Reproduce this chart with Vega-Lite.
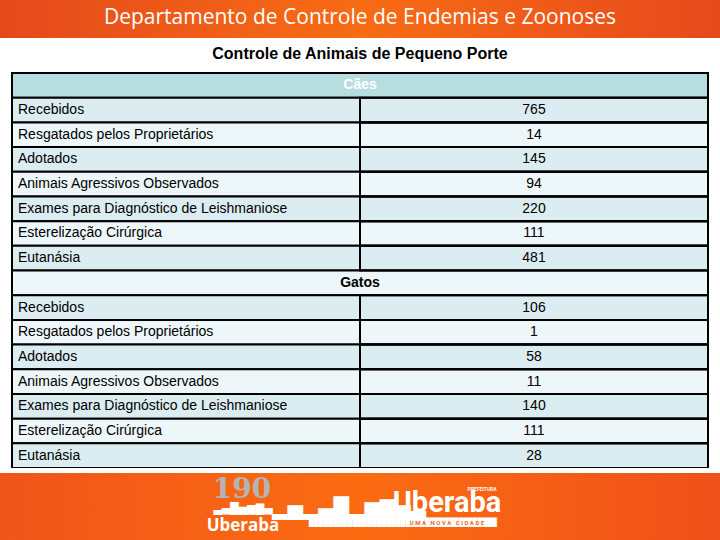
{
  "$schema": "https://vega.github.io/schema/vega-lite/v6.json",
  "background": "white",
  "padding": 0,
  "spacing": 0,
  "bounds": "flush",
  "center": true,
  "config": {"view": {"stroke": null}},
  "datasets": {
    "banner": [{"text": "Departamento de Controle de Endemias e Zoonoses"}],
    "subtitle": [{"text": "Controle de Animais de Pequeno Porte"}],
    "table": [
      {"row": 0, "kind": "header", "label": "Cães"},
      {"row": 1, "kind": "data", "label": "Recebidos", "value": 765},
      {"row": 2, "kind": "data", "label": "Resgatados pelos Proprietários", "value": 14},
      {"row": 3, "kind": "data", "label": "Adotados", "value": 145},
      {"row": 4, "kind": "data", "label": "Animais Agressivos Observados", "value": 94},
      {"row": 5, "kind": "data", "label": "Exames para Diagnóstico de Leishmaniose", "value": 220},
      {"row": 6, "kind": "data", "label": "Esterelização Cirúrgica", "value": 111},
      {"row": 7, "kind": "data", "label": "Eutanásia", "value": 481},
      {"row": 8, "kind": "header", "label": "Gatos"},
      {"row": 9, "kind": "data", "label": "Recebidos", "value": 106},
      {"row": 10, "kind": "data", "label": "Resgatados pelos Proprietários", "value": 1},
      {"row": 11, "kind": "data", "label": "Adotados", "value": 58},
      {"row": 12, "kind": "data", "label": "Animais Agressivos Observados", "value": 11},
      {"row": 13, "kind": "data", "label": "Exames para Diagnóstico de Leishmaniose", "value": 140},
      {"row": 14, "kind": "data", "label": "Esterelização Cirúrgica", "value": 111},
      {"row": 15, "kind": "data", "label": "Eutanásia", "value": 28}
    ],
    "footer": [{"a": "190", "b": "Uberaba", "c": "PREFEITURA", "d": "U\u00a0M\u00a0A\u00a0\u00a0\u00a0N\u00a0O\u00a0V\u00a0A\u00a0\u00a0\u00a0C\u00a0I\u00a0D\u00a0A\u00a0D\u00a0E"}]
  },
  "vconcat": [
    {
      "width": 720, "height": 38,
      "data": {"name": "banner"},
      "layer": [
        {"mark": {"type": "rect", "color": {"gradient": "linear", "x1": 0, "x2": 1, "y1": 0, "y2": 0, "stops": [{"offset": 0, "color": "#e4491c"}, {"offset": 0.5, "color": "#f86c14"}, {"offset": 1, "color": "#e6491c"}]}}, "encoding": {}},
        {"mark": {"type": "text", "color": "white", "font": "Open Sans", "fontSize": 21, "baseline": "middle", "dy": -1}, "encoding": {"text": {"field": "text"}}}
      ]
    },
    {
      "width": 720, "height": 35,
      "data": {"name": "subtitle"},
      "mark": {"type": "text", "color": "black", "font": "Liberation Sans", "fontWeight": "bold", "fontSize": 16, "baseline": "middle", "dy": -2},
      "encoding": {"text": {"field": "text"}}
    },
    {
      "width": 696, "height": 395,
      "data": {"name": "table"},
      "encoding": {"y": {"field": "row", "type": "ordinal", "axis": null, "scale": {"paddingInner": 0, "paddingOuter": 0}}},
      "layer": [
        {
          "mark": {"type": "rect", "stroke": "black", "strokeWidth": 2},
          "encoding": {"fill": {"condition": [{"test": "datum.row === 0", "value": "#b8dde1"}, {"test": "datum.row % 2 === 1", "value": "#dbedf0"}], "value": "#edf6f8"}}
        },
        {
          "transform": [{"filter": "datum.kind === 'data'"}],
          "mark": {"type": "rect", "fillOpacity": 0, "fill": "white", "stroke": "black", "strokeWidth": 2},
          "encoding": {"x": {"datum": "Valor", "type": "nominal", "scale": {"domain": ["Item", "Valor"], "paddingInner": 0, "paddingOuter": 0}, "axis": null}}
        },
        {
          "transform": [{"filter": "datum.kind === 'data'"}],
          "mark": {"type": "text", "align": "left", "baseline": "middle", "dx": 6, "font": "Liberation Sans", "fontSize": 14, "color": "black"},
          "encoding": {"x": {"datum": "Item", "type": "nominal", "bandPosition": 0}, "text": {"field": "label"}}
        },
        {
          "transform": [{"filter": "datum.kind === 'data'"}],
          "mark": {"type": "text", "align": "center", "baseline": "middle", "font": "Liberation Sans", "fontSize": 14, "color": "black"},
          "encoding": {"x": {"datum": "Valor", "type": "nominal"}, "text": {"field": "value"}}
        },
        {
          "transform": [{"filter": "datum.kind === 'header'"}],
          "mark": {"type": "text", "align": "center", "baseline": "middle", "font": "Liberation Sans", "fontWeight": "bold", "fontSize": 14},
          "encoding": {"text": {"field": "label"}, "color": {"condition": {"test": "datum.row === 0", "value": "white"}, "value": "black"}}
        }
      ]
    },
    {
      "width": 720, "height": 5,
      "data": {"name": "banner"},
      "mark": {"type": "rect", "color": "white"},
      "encoding": {}
    },
    {
      "width": 720, "height": 67,
      "data": {"name": "footer"},
      "layer": [
        {"mark": {"type": "rect", "color": {"gradient": "linear", "x1": 0, "x2": 1, "y1": 0, "y2": 0, "stops": [{"offset": 0, "color": "#f0551a"}, {"offset": 0.5, "color": "#fb6c12"}, {"offset": 1, "color": "#f0501a"}]}}, "encoding": {}},
        {"mark": {"type": "text", "color": "#b4b4b4", "font": "DejaVu Serif", "fontWeight": "bold", "fontSize": 28, "baseline": "middle", "dx": -118, "dy": -17}, "encoding": {"text": {"field": "a"}}},
        {"mark": {"type": "text", "color": "white", "font": "DejaVu Sans", "fontSize": 11, "baseline": "middle", "dx": -117, "dy": 2}, "encoding": {"text": {"value": "▃▄█▅▆▇▄"}}},
        {"mark": {"type": "text", "color": "white", "font": "Open Sans", "fontWeight": "bold", "fontSize": 17, "baseline": "middle", "dx": -117, "dy": 19}, "encoding": {"text": {"field": "b"}}},
        {"mark": {"type": "text", "color": "white", "font": "DejaVu Sans Mono", "fontSize": 8, "baseline": "middle", "dx": 43, "dy": 16}, "encoding": {"text": {"value": "███████████████████████████████████████"}}},
        {"mark": {"type": "text", "color": "white", "font": "DejaVu Sans", "fontSize": 20, "baseline": "middle", "dx": -11, "dy": 2}, "encoding": {"text": {"value": "▂▅▂▄█▂▆▇▅▃"}}},
        {"mark": {"type": "text", "color": "white", "font": "Roboto", "fontWeight": "bold", "fontSize": 29, "baseline": "middle", "dx": 87, "dy": -4}, "encoding": {"text": {"field": "b"}}},
        {"mark": {"type": "text", "color": "white", "font": "Roboto", "fontWeight": "bold", "fontSize": 5, "baseline": "middle", "dx": 122, "dy": -18}, "encoding": {"text": {"field": "c"}}},
        {"mark": {"type": "text", "color": "#f0641e", "font": "Roboto", "fontWeight": "bold", "fontSize": 6, "baseline": "middle", "dx": 87, "dy": 16}, "encoding": {"text": {"field": "d"}}}
      ]
    }
  ]
}
